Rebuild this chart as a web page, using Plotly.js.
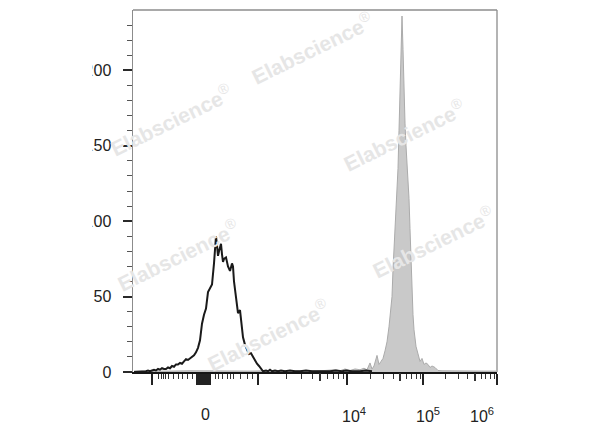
<!DOCTYPE html>
<html>
<head>
<meta charset="utf-8">
<script src="https://cdn.plot.ly/plotly-3.0.1.min.js"></script>
<style>html,body{margin:0;padding:0;background:#fff;}#chart{width:600px;height:427px;}</style>
</head>
<body>
<div id="chart"></div>
<script>
// Display channel (biexponential display scale, 0 .. 364 across the axis)
// Isotype / unstained control (black outline)
const controlChannel = [1,3,5,7,9,11,13,15,17,19,21,23,25,27,29,31,33,35,37,39,41,43,45,47,49,51,53,55,57,59,61,63,65,67,69,71,73,75,77,79,81,82,83,84,85,86,87,88,89,90,91,93,95,97,99,100,101,102,103,105,107,109,110,112,114,116,118,120,122,124,126,128,130,133,135,137,139,142,145,148,152,157,162,167,173,179,187,197,203,209,213,219,227,233,239];
const controlCount   = [0,0,0.5,0,0.5,0,0.5,1,0.5,1,1.5,1,2,1.5,2.5,2,2,3,2.5,4,3.5,5,5,6,5.5,7,8.5,8,9,10,11,13,16,21,32,38,42,53,56,58,72,80,90,84,77,80,82,85,78,73,75,76,70,67,72,70,60,54,48,39,41,30,23,18,14.5,12,12.5,10,8,5.5,4,2,0.5,1,0.5,1.5,0.5,1,0.5,1,0.5,1,0.5,0.5,1,0.5,0.5,0.5,1,0.5,1,0.5,0.5,1,0.5];
// Stained sample (grey filled)
const stainedChannel = [1,17,37,57,77,97,117,137,157,177,192,202,207,212,217,222,227,231,234,237,239,241,244,246,248,250,252,254,256,258,259,260,262,264,265,266,267,268,269,270,271,272,273,274,275,276,277,278,279,280,281,283,285,287,289,291,293,295,297,299,302,305,309,322,337,352,363];
const stainedCount   = [0.6,0.8,0.6,0.8,0.6,0.8,0.6,0.8,0.6,0.8,1,1.5,0.8,2,1,2,1.5,2.5,1.5,6,2,4,11,5,7,9,14,20,30,42,50,68,95,118,135,160,190,222,236,214,185,165,150,140,132,115,95,72,50,38,28,17,12,7,9,5,6,5,3,4,3,1,0.8,0.6,0.8,0.6,0.6];

// Axis ticks (display channel positions) and labels
const xMajorTicks  = [19,125,214,290,364];
const xZeroBlock   = [64,65,66,67,68,69,70,71,72,73,74,75,76,77];
const xMidTicks    = [187,267,342];
const xMinorTicks  = [25,28,30,32,35,40,45,49,54,59,82,85,89,94,97,100,107,114,119,153,168,179,194,200,205,210,237,250,260,273,278,283,287,312,325,334,348,352,357,361];
const xLabelPos    = [72,221,295,349];
const xLabelText   = ['0','10<sup>4</sup>','10<sup>5</sup>','10<sup>6</sup>'];
const yMajorTicks  = [0,50,100,150,200];
const yTickText    = ['0','50','100','150','200'];
const yMinorTicks  = [10,20,30,40,60,70,80,90,110,120,130,140,160,170,180,190,210,220,230];

const watermarkX = [0.492,0.104,0.745,0.124,0.824,0.371];
const watermarkY = [0.895,0.696,0.655,0.323,0.359,0.102];

const FONT = 'Liberation Sans, Arial, Helvetica, sans-serif';

const traces = [
  {x: stainedChannel, y: stainedCount, type:'scatter', mode:'lines', fill:'tozeroy',
   fillcolor:'#c9c9c9', line:{color:'#ababab', width:1}, hoverinfo:'skip', showlegend:false,
   xaxis:'x', yaxis:'y'},
  {x: controlChannel, y: controlCount, type:'scatter', mode:'lines',
   line:{color:'#1a1a1a', width:2}, hoverinfo:'skip', showlegend:false,
   xaxis:'x2', yaxis:'y'}
];

const annotations = [];
xLabelPos.forEach((p,i)=>{
  annotations.push({x:p, xref:'x', y:-0.118, yref:'paper', text:xLabelText[i], showarrow:false,
    xanchor:'center', yanchor:'middle', font:{family:FONT, size:16, color:'#222'}});
});
watermarkX.forEach((wx,i)=>{
  annotations.push({x:wx, y:watermarkY[i], xref:'paper', yref:'paper', text:'<b>Elabscience</b><sup>®</sup>',
    showarrow:false, textangle:-26, xanchor:'center', yanchor:'middle',
    font:{family:FONT, size:21, color:'#e6e6e6'}});
});

const layout = {
  width:600, height:427,
  margin:{l:133, r:103, t:10, b:55, pad:0},
  paper_bgcolor:'#ffffff', plot_bgcolor:'#ffffff',
  showlegend:false,
  xaxis:{range:[0,364], showgrid:false, zeroline:false, showline:true, linecolor:'#161616', linewidth:2,
    tickmode:'array', tickvals: xMajorTicks.concat(xZeroBlock), ticks:'outside', ticklen:11, tickwidth:2,
    tickcolor:'#222', showticklabels:false, fixedrange:true,
    minor:{tickmode:'array', tickvals:xMinorTicks, ticks:'outside', ticklen:5, tickwidth:1, tickcolor:'#333', showgrid:false}},
  xaxis2:{range:[0,364], overlaying:'x', anchor:'y', side:'bottom', showgrid:false, zeroline:false, showline:false,
    tickmode:'array', tickvals:xMidTicks, ticks:'outside', ticklen:8, tickwidth:1.5, tickcolor:'#333',
    showticklabels:false, fixedrange:true},
  yaxis:{range:[0,240], showgrid:false, zeroline:false, showline:true, linecolor:'#8c8c8c', linewidth:1.5,
    tickmode:'array', tickvals:yMajorTicks, ticktext:yTickText, ticks:'outside', ticklen:9, tickwidth:2,
    ticklabelstandoff:8,
    tickcolor:'#2a2a2a', tickfont:{family:FONT, size:16, color:'#222'}, fixedrange:true,
    minor:{tickmode:'array', tickvals:yMinorTicks, ticks:'outside', ticklen:5, tickwidth:1, tickcolor:'#555', showgrid:false}},
  shapes:[
    {type:'line', xref:'paper', yref:'paper', x0:0, x1:1, y0:1, y1:1, line:{color:'#8c8c8c', width:1.3}},
    {type:'line', xref:'paper', yref:'paper', x0:1, x1:1, y0:0, y1:1, line:{color:'#8c8c8c', width:1.3}},
    {type:'rect', xref:'paper', yref:'paper', x0:-0.5, x1:-0.1113, y0:-0.2, y1:1.05, fillcolor:'#ffffff', line:{width:0}, layer:'above'}
  ],
  annotations: annotations
};

Plotly.newPlot('chart', traces, layout, {staticPlot:true, displayModeBar:false});
</script>
</body>
</html>
